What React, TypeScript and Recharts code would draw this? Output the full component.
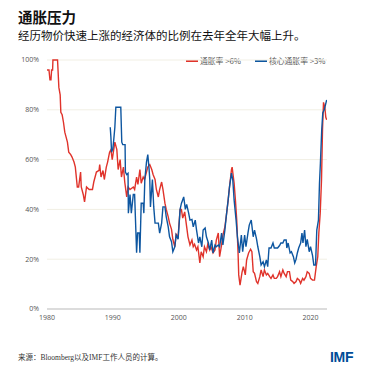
import React from "react";
import { LineChart, Line, XAxis, YAxis, CartesianGrid } from "recharts";

const RED = "#e0332b";
const BLUE = "#0d56a0";

// share of economies with headline inflation > 6%
const headlineYears = [
  1980.0, 1980.3, 1980.45, 1980.6, 1980.7, 1980.85, 1980.9, 1981.6, 1981.8, 1982.0,
  1982.1, 1982.3, 1982.5, 1982.7, 1982.9, 1983.1, 1983.3, 1983.6, 1983.8, 1984.1,
  1984.3, 1984.6, 1984.8, 1985.1, 1985.2, 1985.5, 1985.7, 1986.0, 1986.4, 1986.9,
  1987.1, 1987.5, 1987.9, 1988.0, 1988.2, 1988.5, 1988.7, 1989.0, 1989.2, 1989.5,
  1989.7, 1989.9, 1990.3, 1990.6, 1990.8, 1991.1, 1991.3, 1991.6, 1991.8, 1992.1,
  1992.3, 1992.6, 1993.1, 1993.3, 1993.6, 1993.8, 1994.1, 1994.3, 1994.6, 1994.8,
  1995.1, 1995.3, 1995.6, 1995.9, 1996.1, 1996.4, 1996.6, 1996.9, 1997.1, 1997.4,
  1997.6, 1997.9, 1998.1, 1998.4, 1998.6, 1998.9, 1999.1, 1999.4, 1999.6, 1999.9,
  2000.2, 2000.4, 2000.6, 2000.9, 2001.2, 2001.4, 2001.7, 2002.0, 2002.2, 2002.4,
  2002.7, 2002.9, 2003.2, 2003.4, 2003.7, 2003.9, 2004.2, 2004.4, 2004.7, 2004.9,
  2005.2, 2005.5, 2005.7, 2006.0, 2006.2, 2006.5, 2006.7, 2007.0, 2007.2, 2007.5,
  2007.7, 2008.0, 2008.1, 2008.4, 2008.6, 2008.8, 2009.0, 2009.1, 2009.3, 2009.6,
  2009.8, 2010.1, 2010.3, 2010.6, 2010.9, 2011.1, 2011.3, 2011.5, 2011.8, 2012.0,
  2012.3, 2012.5, 2012.8, 2013.0, 2013.3, 2013.5, 2013.8, 2014.0, 2014.3, 2014.5,
  2014.8, 2015.0, 2015.3, 2015.5, 2015.8, 2016.0, 2016.3, 2016.5, 2016.8, 2017.0,
  2017.3, 2017.5, 2017.8, 2018.0, 2018.3, 2018.5, 2018.8, 2019.0, 2019.3, 2019.5,
  2019.8, 2020.0, 2020.3, 2020.6, 2020.86, 2021.1, 2021.26, 2021.47, 2021.67, 2021.82,
  2021.97, 2022.17, 2022.32, 2022.45,
];
const headlineValues = [
  96, 96, 92, 92, 96, 96, 100, 100, 89, 86,
  79, 78, 75, 71, 69, 67, 63, 62, 61, 59,
  57, 49, 49, 55, 49, 46, 43, 49, 48, 48,
  51, 55, 55.7, 58, 53, 55.6, 52, 57, 59, 63,
  64, 60, 67, 64, 56, 60, 53, 57, 51, 45,
  49, 48, 49, 48, 53, 50, 56, 50.5, 53, 52,
  55, 57, 58, 56, 54, 52, 48, 45, 48, 51,
  48, 42.5, 40, 37, 34.5, 32, 28, 25, 30, 29,
  40, 40, 36.5, 39, 33, 29, 25.7, 27.7, 25, 26,
  23.7, 25, 18.5, 23, 21, 25, 23, 26, 23.7, 25,
  22.5, 23.7, 27.7, 30.5, 21, 25.7, 29.7, 33, 37, 43.8,
  49, 56, 57, 50.6, 43.8, 35.7, 22.5, 13.7, 9.6, 14.7,
  17, 13.7, 19.7, 22.5, 24, 23, 15, 14.3, 11, 10.3,
  13, 15.7, 13, 15.7, 13.7, 14.3, 13, 12.3, 13.7, 12.3,
  12.3, 13, 15, 13, 15.7, 14.3, 13, 15, 15, 11.6,
  11, 10.3, 11, 12.3, 11.6, 10.3, 12.3, 11.6, 13, 15,
  14.3, 12.3, 11.6, 11.6, 17, 21, 30.5, 38.5, 52, 72,
  83, 81, 77, 76,
];

// share of economies with core inflation > 3%
const coreYears = [
  1989.6, 1989.7, 1989.8, 1990.0, 1990.1, 1990.3, 1990.45, 1991.2, 1991.35, 1991.5,
  1991.85, 1991.9, 1992.1, 1992.3, 1992.35, 1992.6, 1992.8, 1993.1, 1993.3, 1993.5,
  1993.6, 1993.75, 1994.0, 1994.1, 1994.3, 1994.6, 1994.7, 1994.85, 1995.1, 1995.3,
  1995.5, 1995.6, 1995.7, 1996.0, 1996.2, 1996.4, 1996.6, 1996.9, 1997.1, 1997.4,
  1997.6, 1997.9, 1998.1, 1998.4, 1998.6, 1998.9, 1999.1, 1999.4, 1999.6, 1999.9,
  2000.2, 2000.4, 2000.75, 2001.0, 2001.2, 2001.5, 2001.7, 2002.0, 2002.2, 2002.5,
  2002.7, 2003.0, 2003.2, 2003.5, 2003.7, 2004.0, 2004.2, 2004.5, 2004.7, 2005.0,
  2005.2, 2005.5, 2005.7, 2006.0, 2006.2, 2006.5, 2006.7, 2007.0, 2007.2, 2007.5,
  2007.7, 2008.0, 2008.2, 2008.4, 2008.7, 2008.9, 2009.2, 2009.5, 2009.7, 2010.0,
  2010.2, 2010.5, 2010.7, 2011.0, 2011.3, 2011.5, 2011.8, 2012.0, 2012.3, 2012.5,
  2012.8, 2013.0, 2013.3, 2013.5, 2013.7, 2014.0, 2014.3, 2014.5, 2014.8, 2015.0,
  2015.3, 2015.5, 2015.8, 2016.0, 2016.3, 2016.4, 2016.6, 2016.9, 2017.1, 2017.4,
  2017.6, 2017.8, 2018.0, 2018.2, 2018.5, 2018.7, 2018.85, 2019.1, 2019.3, 2019.5,
  2019.8, 2020.0, 2020.3, 2020.5, 2020.76, 2020.95, 2021.2, 2021.36, 2021.5, 2021.7,
  2021.86, 2022.08, 2022.27, 2022.45,
];
const coreValues = [
  73, 69, 63, 64.5, 67, 73, 81, 81, 67, 66,
  66, 55, 54, 54.5, 38.5, 46, 38.5, 46, 46, 30.5,
  22.6, 30.5, 30.5, 22.6, 42.5, 42.5, 38.5, 52, 59, 62,
  56, 52, 41, 52, 41, 34.5, 34.5, 34.5, 30.5, 34.5,
  41, 41, 37, 33, 29, 27, 23, 25, 29.7, 28,
  40, 42.4, 45, 40, 42, 38.5, 35.7, 36, 33, 35.7,
  31.7, 26.5, 29, 25, 31.7, 32.5, 29, 26.5, 23.7, 27.7,
  22.5, 25.7, 25, 25.7, 25, 30.5, 25.7, 31.7, 37, 43.8,
  49, 54.6, 51.8, 43.8, 35.7, 29, 22.5, 29.7, 23, 29.7,
  25, 30.5, 33.7, 35.7, 29, 31.7, 28.2, 25, 21, 17.7,
  19, 17, 19.7, 17, 24.5, 24.5, 26.5, 24.5, 24.5, 24.5,
  25.5, 26.5, 26.5, 27.7, 27.7, 24.5, 26.5, 22.5, 23, 21,
  18.5, 20, 22.5, 24.5, 26.5, 30.5, 26.5, 31.7, 25, 28,
  23, 25, 21.5, 17.7, 17.7, 31.7, 35.7, 50.6, 58.6, 72,
  78.7, 80, 82, 84,
];

const yTicks = [0, 20, 40, 60, 80, 100];
const xTicks = [1980, 1990, 2000, 2010, 2020];

const headlineData = headlineYears.map((year, i) => ({ year, value: headlineValues[i] }));
const coreData = coreYears.map((year, i) => ({ year, value: coreValues[i] }));

const CJK = "'Noto Sans CJK SC', 'Noto Sans', sans-serif";
const tickStyle = { fontSize: 7, fill: "#555", fontFamily: "'Open Sans', 'Noto Sans', sans-serif" };

export default function App() {
  return (
    <div
      style={{
        position: "absolute",
        left: 0,
        top: 0,
        width: 378,
        height: 378,
        background: "#fff",
        fontFamily: CJK,
      }}
    >
      <div style={{ position: "absolute", left: 18, top: 8.5, fontSize: 14.5, fontWeight: 700, color: "#111", lineHeight: "16px" }}>
        通胀压力
      </div>
      <div style={{ position: "absolute", left: 18, top: 29, fontSize: 11.5, color: "#111", lineHeight: "13px" }}>
        经历物价快速上涨的经济体的比例在去年全年大幅上升。
      </div>

      {/* legend */}
      <div style={{ position: "absolute", left: 186, top: 56, fontSize: 7.8, color: "#555", display: "flex", alignItems: "center", lineHeight: "10px" }}>
        <span style={{ display: "inline-block", width: 12, height: 1.5, background: RED, marginRight: 2 }} />
        <span>通胀率 &gt;6%</span>
        <span style={{ display: "inline-block", width: 12, height: 1.5, background: BLUE, marginLeft: 14, marginRight: 2 }} />
        <span>核心通胀率 &gt;3%</span>
      </div>

      <div style={{ position: "absolute", left: 0, top: 50 }}>
        <LineChart width={340} height={290} margin={{ top: 10, right: 13, bottom: 0, left: 0 }}>
          <CartesianGrid horizontal vertical={false} stroke="#f1efe4" />
          <XAxis
            type="number"
            dataKey="year"
            domain={[1980, 2022.5]}
            ticks={xTicks}
            allowDataOverflow
            tickLine={false}
            tickSize={0}
            tickMargin={6}
            height={31}
            axisLine={{ stroke: "#dcdcdc", strokeWidth: 2 }}
            tick={tickStyle}
          />
          <YAxis
            type="number"
            domain={[0, 100]}
            ticks={yTicks}
            width={47}
            tickLine={false}
            tickSize={0}
            tickMargin={8}
            axisLine={false}
            tick={tickStyle}
            tickFormatter={(v: number) => `${v}%`}
          />
          <Line
            data={headlineData}
            dataKey="value"
            type="linear"
            stroke={RED}
            strokeWidth={1.4}
            dot={false}
            isAnimationActive={false}
          />
          <Line
            data={coreData}
            dataKey="value"
            type="linear"
            stroke={BLUE}
            strokeWidth={1.4}
            dot={false}
            isAnimationActive={false}
          />
        </LineChart>
      </div>

      <div style={{ position: "absolute", left: 18, top: 353, fontSize: 7.5, color: "#333", fontFamily: "'Liberation Serif', 'Noto Sans CJK SC', serif", lineHeight: "10px" }}>
        来源：Bloomberg以及IMF工作人员的计算。
      </div>
      <div style={{ position: "absolute", left: 330, top: 349, fontSize: 14, fontWeight: 900, color: "#004c97", fontFamily: "'Liberation Sans', Arial, sans-serif", letterSpacing: -0.3, lineHeight: "17px" }}>
        IMF
      </div>
    </div>
  );
}
